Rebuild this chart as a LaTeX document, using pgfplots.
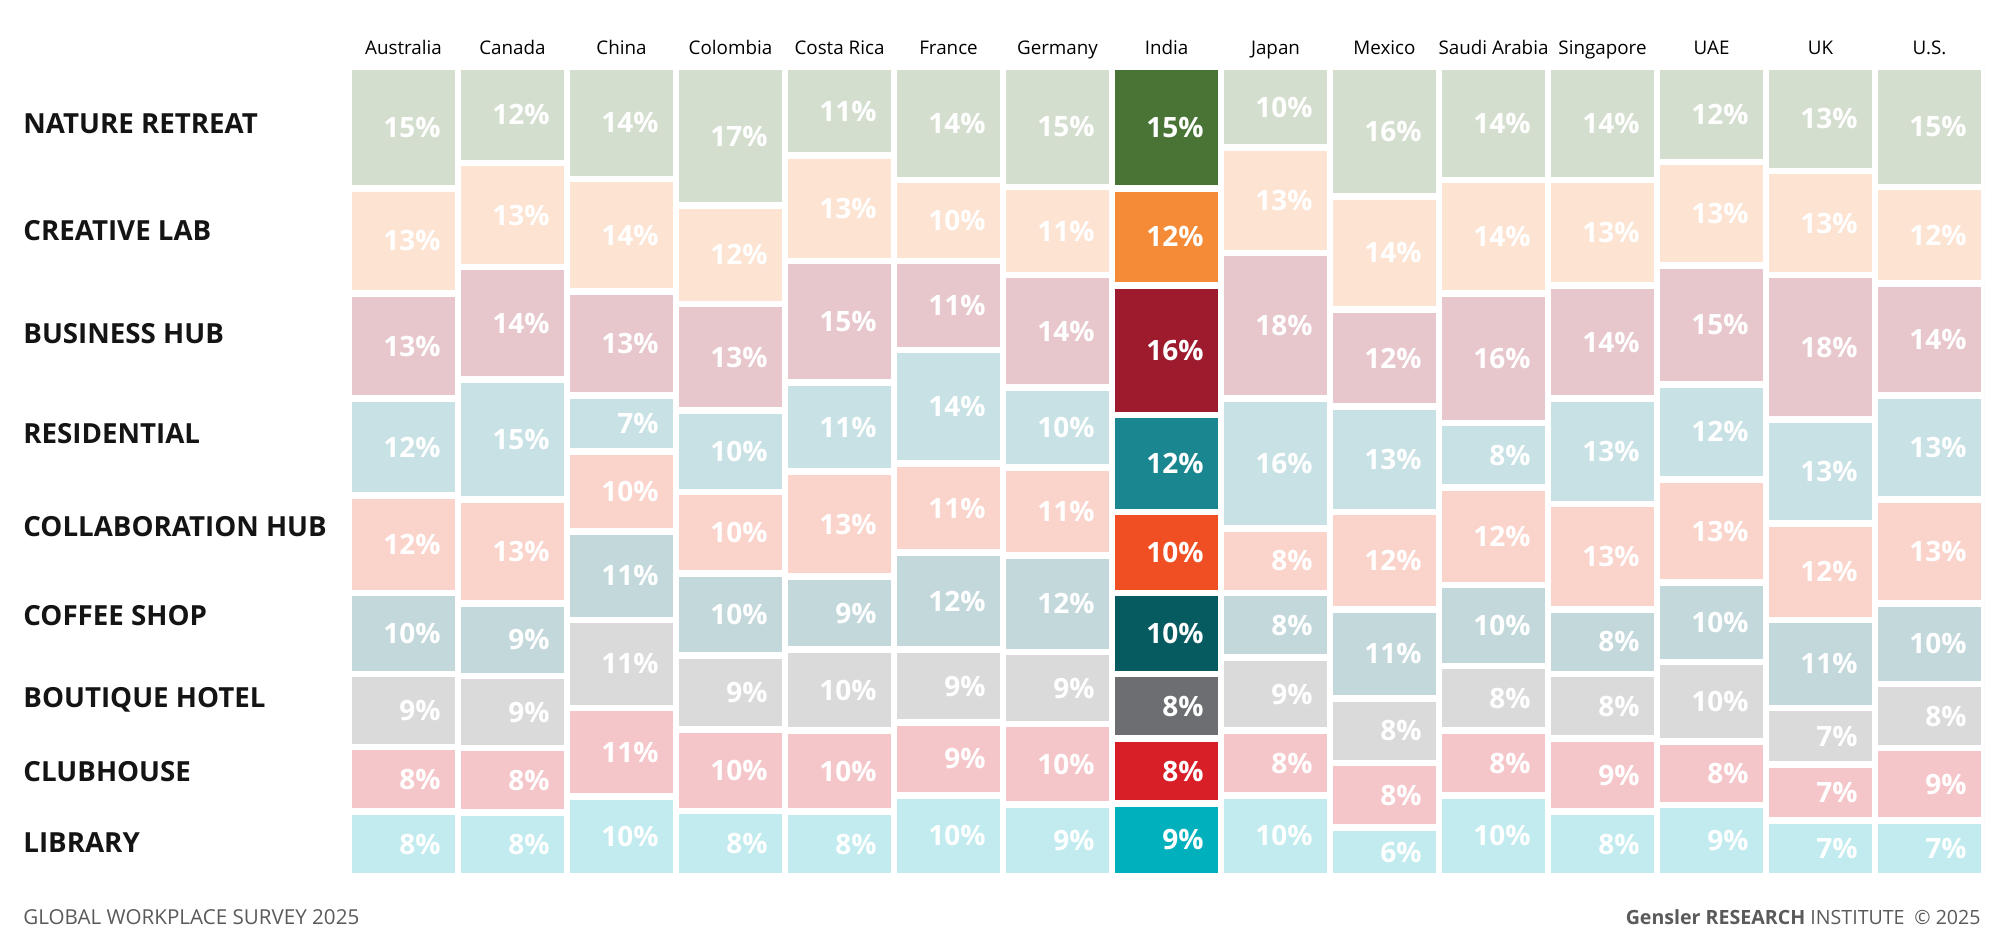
\documentclass[border=0pt]{standalone}
\usepackage{fontspec}
\setmainfont{Open Sans}
\usepackage{pgfplots}
\usepackage{pgfplotstable}
\pgfplotsset{compat=1.18}

% light tints (all countries) and full colours (India)
\definecolor{nrL}{HTML}{D4DECE}\definecolor{nrD}{HTML}{4A7435}
\definecolor{clL}{HTML}{FDE3D2}\definecolor{clD}{HTML}{F58B37}
\definecolor{bhL}{HTML}{E7C7CC}\definecolor{bhD}{HTML}{9E1A2D}
\definecolor{reL}{HTML}{C8E1E4}\definecolor{reD}{HTML}{1A8790}
\definecolor{chL}{HTML}{FAD3CB}\definecolor{chD}{HTML}{F04E23}
\definecolor{csL}{HTML}{C3D8DB}\definecolor{csD}{HTML}{065B60}
\definecolor{btL}{HTML}{DADADA}\definecolor{btD}{HTML}{6D6E71}
\definecolor{cbL}{HTML}{F5C6C9}\definecolor{cbD}{HTML}{D81E26}
\definecolor{lbL}{HTML}{C1EBEE}\definecolor{lbD}{HTML}{00B0BD}
\definecolor{footgray}{HTML}{5A5A5A}

% rows: countries in order, columns: workplace types (top to bottom)
\pgfplotstableread{
idx NR CL BH RE CH CS BT CB LB
0  15 13 13 12 12 10  9  8  8
1  12 13 14 15 13  9  9  8  8
2  14 14 13  7 10 11 11 11 10
3  17 12 13 10 10 10  9 10  8
4  11 13 15 11 13  9 10 10  8
5  14 10 11 14 11 12  9  9 10
6  15 11 14 10 11 12  9 10  9
7  15 12 16 12 10 10  8  8  9
8  10 13 18 16  8  8  9  8 10
9  16 14 12 13 12 11  8  8  6
10 14 14 16  8 12 10  8  8 10
11 14 13 14 13 13  8  8  9  8
12 12 13 15 12 13 10 10  8  9
13 13 13 18 13 12 11  7  7  7
14 15 12 14 13 13 10  8  9  7
}\survey
\pgfplotstablecreatecol[expr={\thisrow{NR}+\thisrow{CL}+\thisrow{BH}+\thisrow{RE}+\thisrow{CH}+\thisrow{CS}+\thisrow{BT}+\thisrow{CB}+\thisrow{LB}}]{tot}\survey

\pgfplotsset{
  mosaic/.style={
    scale only axis, width=817.5pt, height=404.85pt,
    anchor=south west, at={(174.5pt,30.8pt)},
    xmin=-0.5, xmax=14.5, ymin=0, ymax=100,
  },
  tiles/.style={
    mosaic, ybar stacked, bar width=1,
    every axis plot/.append style={draw=white, line width=3.35pt},
  },
}
\newcommand\seg[2]{\addplot[fill=#2] table[x=idx, y expr=\thisrow{#1}/\thisrow{tot}*100]{\survey};}
\newcommand\lab[2]{\addplot[draw=none, mark=none, nodes near coords={\pgfplotspointmeta\%}, point meta=explicit symbolic] table[x=idx, y expr=(#1)/\thisrow{tot}*100, meta=#2]{\survey};}

\begin{document}
\begin{tikzpicture}
\useasboundingbox (0,0) rectangle (1000pt,469pt);

\begin{axis}[tiles,
  axis line style={draw=none}, major tick length=0pt,
  ytick=\empty, xtick={0,...,14},
  xticklabels={Australia,Canada,China,Colombia,Costa Rica,France,Germany,India,Japan,Mexico,Saudi Arabia,Singapore,UAE,UK,U.S.},
  xticklabel pos=right,
  xticklabel style={font=\fontsize{9.4}{12}\selectfont, anchor=base, yshift=6.3pt, text=black},
]
\seg{LB}{lbL}\seg{CB}{cbL}\seg{BT}{btL}\seg{CS}{csL}\seg{CH}{chL}
\seg{RE}{reL}\seg{BH}{bhL}\seg{CL}{clL}\seg{NR}{nrL}
\end{axis}

% India in full colour
\begin{axis}[tiles, hide axis, restrict x to domain=6.5:7.5]
\seg{LB}{lbD}\seg{CB}{cbD}\seg{BT}{btD}\seg{CS}{csD}\seg{CH}{chD}
\seg{RE}{reD}\seg{BH}{bhD}\seg{CL}{clD}\seg{NR}{nrD}
\end{axis}

% percentages, centred in each tile
\begin{axis}[mosaic, hide axis,
  every node near coord/.append style={anchor=east, xshift=18.75pt, inner sep=0pt,
    text=white, font=\bfseries\fontsize{14}{14}\selectfont},
]
\lab{\thisrow{LB}/2}{LB}
\lab{\thisrow{LB}+\thisrow{CB}/2}{CB}
\lab{\thisrow{LB}+\thisrow{CB}+\thisrow{BT}/2}{BT}
\lab{\thisrow{LB}+\thisrow{CB}+\thisrow{BT}+\thisrow{CS}/2}{CS}
\lab{\thisrow{LB}+\thisrow{CB}+\thisrow{BT}+\thisrow{CS}+\thisrow{CH}/2}{CH}
\lab{\thisrow{LB}+\thisrow{CB}+\thisrow{BT}+\thisrow{CS}+\thisrow{CH}+\thisrow{RE}/2}{RE}
\lab{\thisrow{LB}+\thisrow{CB}+\thisrow{BT}+\thisrow{CS}+\thisrow{CH}+\thisrow{RE}+\thisrow{BH}/2}{BH}
\lab{\thisrow{tot}-\thisrow{NR}-\thisrow{CL}/2}{CL}
\lab{\thisrow{tot}-\thisrow{NR}/2}{NR}
\end{axis}

\begin{scope}[every node/.style={anchor=base west, inner sep=0pt, text=black!92,
    font=\bfseries\fontsize{13.85}{16}\selectfont}]
\node at (11.5pt,402.25pt) {NATURE RETREAT};
\node at (11.5pt,348.75pt) {CREATIVE LAB};
\node at (11.5pt,297.25pt) {BUSINESS HUB};
\node at (11.5pt,247.25pt) {RESIDENTIAL};
\node at (11.5pt,200.75pt) {COLLABORATION HUB};
\node at (11.5pt,156.25pt) {COFFEE SHOP};
\node at (11.5pt,115.25pt) {BOUTIQUE HOTEL};
\node at (11.5pt,78.25pt) {CLUBHOUSE};
\node at (11.5pt,42.75pt) {LIBRARY};
\end{scope}

\node[anchor=base west, inner sep=0pt, text=footgray, font=\fontsize{10.3}{12}\selectfont]
  at (11.5pt,6.75pt) {GLOBAL WORKPLACE SURVEY 2025};
\node[anchor=base east, inner sep=0pt, text=footgray, font=\fontsize{9.8}{12}\selectfont]
  at (990.5pt,6.75pt) {{\bfseries Gensler RESEARCH} INSTITUTE\enspace © 2025};
\end{tikzpicture}
\end{document}
